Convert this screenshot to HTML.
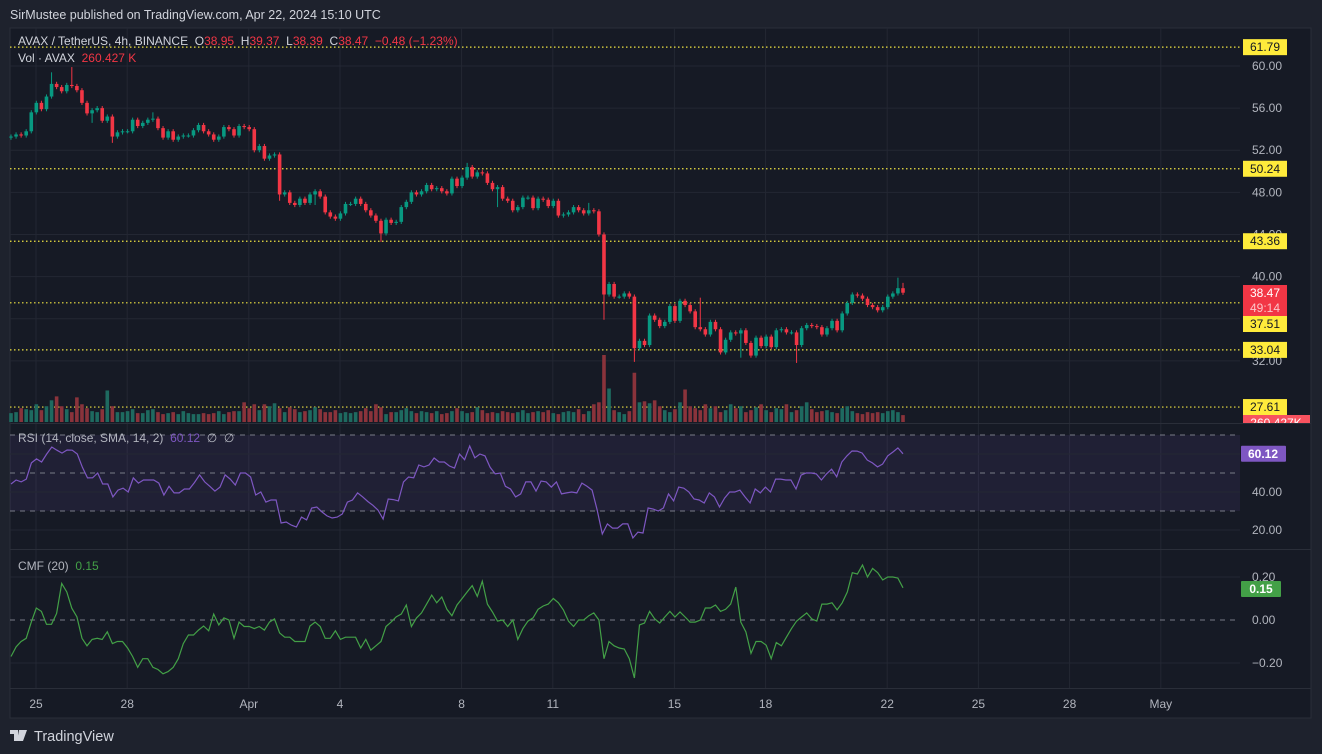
<!DOCTYPE html>
<html><head><meta charset="utf-8"><style>
body{margin:0;background:#1e222d;width:1322px;height:754px;overflow:hidden;font-family:"Liberation Sans",sans-serif}
svg{display:block}
text{font-family:"Liberation Sans",sans-serif}
</style></head><body>
<svg id="c" width="1322" height="754" xmlns="http://www.w3.org/2000/svg">
<rect x="0" y="0" width="1322" height="754" fill="#1e222d"/>
<text x="10" y="19" fill="#d1d4dc" font-size="12.5">SirMustee published on TradingView.com, Apr 22, 2024 15:10 UTC</text>
<rect x="10" y="28" width="1301" height="690" fill="#161a25" stroke="#2a2e39"/>
<g id="grid"></g>
<g id="levels"></g>
<g id="vol"></g>
<g id="candles"></g>
<g id="rsi"></g>
<g id="cmf"></g>
<g id="axes"></g>
<line x1="10" y1="423.5" x2="1311" y2="423.5" stroke="#2a2e39"/>
<line x1="10" y1="549.5" x2="1311" y2="549.5" stroke="#2a2e39"/>
<line x1="10" y1="688.5" x2="1311" y2="688.5" stroke="#2a2e39"/>
<g font-size="12">
<text x="18" y="45" fill="#d1d4dc" xml:space="preserve">AVAX / TetherUS, 4h, BINANCE  O<tspan fill="#f23645">38.95</tspan>  H<tspan fill="#f23645">39.37</tspan>  L<tspan fill="#f23645">38.39</tspan>  C<tspan fill="#f23645">38.47  −0.48 (−1.23%)</tspan></text>
<text x="18" y="62" fill="#d1d4dc" xml:space="preserve">Vol · AVAX  <tspan fill="#f23645">260.427 K</tspan></text>
<text x="18" y="442" fill="#b2b5be" xml:space="preserve">RSI (14, close, SMA, 14, 2)  <tspan fill="#7e57c2">60.12</tspan>  ∅  ∅</text>
<text x="18" y="570" fill="#b2b5be" xml:space="preserve">CMF (20)  <tspan fill="#43a047">0.15</tspan></text>
</g>
<g>
<path d="M10 730h8v11h-4v-7h-4z M19 730h4l-3 11h-3z M23 730h4l-4 11h-3z" fill="#d1d4dc"/>
<text x="34" y="741" fill="#d1d4dc" font-size="14.5">TradingView</text>
</g>
</svg>
<script>
// ---- data ----
const dayLabels = ["25","28","Apr","4","8","11","15","18","22","25","28","May"];
const dayIndex = [0,3,7,10,14,17,21,24,28,31,34,37]; // days since Mar 25
const priceTicks = [60,56,52,48,44,40,36,32];
const levelValues = [61.79,50.24,43.36,37.51,33.04,27.61];
const closes = [53.3,53.5,53.4,53.8,55.6,56.5,55.9,57.1,58.3,58.0,57.6,58.2,58.1,57.7,56.5,55.5,55.8,56.0,54.8,55.2,53.3,53.7,53.8,53.8,54.9,54.3,54.6,54.9,55.0,54.1,53.2,53.8,53.0,53.3,53.4,53.4,53.9,54.4,53.8,53.5,53.0,53.3,54.2,54.0,53.4,54.3,54.2,54.0,52.0,52.4,51.2,51.5,51.6,47.8,48.0,47.0,46.8,47.4,47.0,47.8,48.1,47.6,
46.1,45.7,45.5,46.0,46.9,46.9,47.4,46.9,46.3,45.8,45.3,44.1,45.4,45.1,45.2,46.6,47.1,48.0,47.8,48.1,48.7,48.3,48.4,48.1,47.9,49.3,48.6,49.4,50.4,49.5,49.9,49.8,48.9,48.3,48.5,47.4,47.2,46.3,46.6,47.5,47.5,46.5,47.4,47.3,46.7,47.2,45.8,45.9,46.1,46.6,46.3,46.0,46.3,46.2,
44.0,38.3,39.3,38.1,38.1,38.4,38.1,33.2,33.9,33.5,36.3,35.9,35.3,35.7,37.2,35.8,37.7,37.3,36.7,35.2,35.0,34.5,35.7,35.0,32.8,34.0,34.7,34.6,34.9,33.7,32.5,34.2,33.4,34.3,33.3,34.9,35.0,34.7,34.7,33.5,35.1,35.4,35.3,35.2,34.5,35.1,35.8,34.9,36.5,37.5,38.3,38.2,37.9,37.3,37.1,36.8,37.1,38.1,38.4,38.9,38.47];
const firstOpen = 53.2;
const wickHighs = {8:59.4,12:59.9,28:55.6,114:47.0,175:39.9,176:39.4,136:38.0,90:50.8};
const wickLows = {16:54.6,20:52.7,53:47.2,60:46.8,73:43.3,117:35.9,123:31.9,155:31.8,144:32.3,96:46.6};
const volumes = [450,500,700,650,600,900,600,800,1100,1300,
800,650,500,1250,900,700,550,500,650,1600,
800,500,500,550,650,450,450,600,650,500,
400,450,500,400,550,450,400,400,450,400,
450,550,400,500,550,550,1000,700,900,600,
900,800,950,700,500,750,650,500,550,600,
750,650,500,500,600,450,500,450,500,550,
700,550,900,750,400,500,500,600,700,550,
450,550,500,450,550,400,450,550,700,550,
450,500,750,600,450,500,450,550,500,450,
500,600,450,500,550,500,600,450,400,500,
550,500,650,400,550,900,1000,3400,1700,600,
500,400,550,2500,1000,1050,950,1100,800,600,
500,650,1000,1650,800,700,600,900,700,800,
500,600,900,700,800,500,600,750,900,600,
500,700,650,900,500,600,800,1000,650,500,
550,600,500,450,700,800,550,450,400,500,
450,500,450,550,600,500,350];
const rsiValues = [44.2,46.3,45.3,46.8,55.3,57.4,55.8,60,63.7,62,60.5,62.1,62,60,53,47.4,47.5,50,44.2,44.2,37.4,41,42,40,47.4,44.7,46.3,46.3,46.3,44.7,38.4,43,39.5,39.5,41.6,41.6,45,49,45.3,43,40.5,42.6,49,46.8,43.7,50,50,47.9,38.4,40,34.7,35.8,35.8,23.7,24.2,22.6,21.6,26.8,25.3,31.6,32.1,29.5,27.4,26.3,26.8,28.4,34.7,35.8,39.5,37.4,35,33,30.5,25.8,36.3,36,35.3,45.3,47.9,47.5,54.2,53.2,54.2,57.9,55.8,55.8,53.7,52.6,60,
57,64.2,58,60,59,53,49.5,50,43,41.6,37.4,39,45.3,45.3,40.5,45.8,45.3,42.6,45.3,39,39.5,40,39.5,44.7,43,41,30.5,17.9,23.2,21,21,23.2,23.2,15.8,18.9,18.4,31.6,31,30,31.6,39,35.3,42.6,42,40,36.3,35.8,34.2,39.5,37.4,32.1,36.8,40,40,41,37.4,34.2,41.6,39.5,42.6,40,46.8,46.8,46.3,46.3,41.6,48.9,50,50,49.5,46.3,49.5,52,48,55.8,59,61.6,61.5,60.5,56.8,55.3,53.2,54.7,59,61,63.2,60.12];
const cmfValues = [-0.17,-0.125,-0.1,-0.085,-0.01,0.056,0.04,-0.02,-0.02,0.03,0.17,0.13,0.055,0.015,-0.085,-0.12,-0.09,-0.085,-0.09,-0.055,-0.11,-0.1,-0.1,-0.13,-0.17,-0.22,-0.18,-0.18,-0.22,-0.23,-0.25,-0.24,-0.22,-0.18,-0.11,-0.07,-0.07,-0.047,-0.028,-0.05,0.028,-0.023,0.01,0,-0.085,-0.01,-0.03,-0.03,-0.04,-0.03,-0.047,-0.01,0.005,-0.06,-0.08,-0.08,-0.1,-0.1,-0.1,-0.028,-0.01,-0.03,-0.085,-0.085,-0.05,-0.09,-0.08,-0.08,-0.08,-0.13,-0.09,-0.14,-0.12,-0.1,-0.03,-0.01,0.015,0.028,0.07,-0.03,0.01,0.033,0.074,0.116,0.08,0.107,0.05,0.02,0.07,
0.1,0.13,0.16,0.11,0.18,0.074,0.037,-0.005,0,-0.03,0,-0.09,-0.04,-0.005,0.01,0.05,0.065,0.074,0.1,0.08,0.047,-0.005,-0.03,0,0,0.02,0.033,0,-0.18,-0.1,-0.12,-0.13,-0.135,-0.18,-0.27,-0.023,-0.014,0.04,0.005,-0.014,0.014,0.04,0.014,0.037,0.014,-0.01,-0.01,0,0.056,0.056,0.07,0.04,0.05,0.074,0.153,-0.01,-0.056,-0.155,-0.1,-0.1,-0.117,-0.18,-0.105,-0.12,-0.08,-0.04,-0.005,0.014,0.033,0.005,-0.005,0.074,0.074,0.08,0.047,0.08,0.13,0.22,0.214,0.256,0.2,0.24,0.22,0.186,0.2,0.2,0.195,0.15];
const rsiTicks = [40,20];
const cmfTicks = [0.2,0,-0.2];

// ---- scales ----
const NS="http://www.w3.org/2000/svg";
const X0=11, X1=903, PLOT_R=1240;
const dayX = d => 36 + d*30.4;
const xOf = (i,n) => X0 + i*(X1-X0)/(n-1);
const yP = p => 66 + (60-p)*10.53;
const yR = v => 530 - (v-20)*1.9;
const yC = v => 620 - v*215;
function mk(tag, attrs, parent, txt){const e=document.createElementNS(NS,tag);for(const k in attrs)e.setAttribute(k,attrs[k]);if(txt!==undefined)e.textContent=txt;parent.appendChild(e);return e;}
const G=id=>document.getElementById(id);

// grid
const grid=G('grid');
dayIndex.forEach((d,i)=>{
  const l=mk('line',{x1:dayX(d),x2:dayX(d),y1:28,y2:688,stroke:'#232733'},grid);
  
  
  const t=mk('text',{x:dayX(d),y:708,fill:'#b2b5be','font-size':12,'text-anchor':'middle'},G('axes'),dayLabels[i]);
  
  
});
priceTicks.forEach(p=>{
  const l=mk('line',{x1:10,x2:PLOT_R,y1:yP(p),y2:yP(p),stroke:'#232733'},grid);
  
  
  const t=mk('text',{x:1252,y:yP(p)+4,fill:'#b2b5be','font-size':12},G('axes'),p.toFixed(2));
  
  
});

// RSI pane
const rsi=G('rsi');
mk('rect',{x:10,y:yR(70),width:PLOT_R-10,height:yR(30)-yR(70),fill:'rgba(126,87,194,0.1)'},rsi);
[60,40,20].forEach(v=>{mk('line',{x1:10,x2:PLOT_R,y1:yR(v),y2:yR(v),stroke:'#232733'},rsi);});
[70,50,30].forEach(v=>{
  const l=mk('line',{x1:10,x2:PLOT_R,y1:yR(v),y2:yR(v),stroke:'#787b86','stroke-dasharray':'5,5'},rsi);
  
  
});
rsiTicks.forEach(v=>{
  const t=mk('text',{x:1252,y:yR(v)+4,fill:'#b2b5be','font-size':12},rsi,v.toFixed(2));
  
  
});
let pts=rsiValues.map((v,i)=>xOf(i,rsiValues.length).toFixed(1)+','+yR(v).toFixed(1)).join(' ');
const rl=mk('polyline',{points:pts,fill:'none',stroke:'#7e57c2','stroke-width':1.2},rsi);


const rv=rsiValues[rsiValues.length-1];
mk('rect',{x:1241,y:yR(rv)-8,width:45,height:16,fill:'#7e57c2',rx:1},rsi);
const rb=mk('text',{x:1263,y:yR(rv)+4,fill:'#fff','font-size':12,'text-anchor':'middle','font-weight':'bold'},rsi,rv.toFixed(2));



// CMF pane
const cmf=G('cmf');
cmfTicks.forEach(v=>{
  if(v===0) mk('line',{x1:10,x2:PLOT_R,y1:yC(v),y2:yC(v),stroke:'#787b86','stroke-dasharray':'5,5'},cmf);
  else mk('line',{x1:10,x2:PLOT_R,y1:yC(v),y2:yC(v),stroke:'#232733'},cmf);
  const t=mk('text',{x:1252,y:yC(v)+4,fill:'#b2b5be','font-size':12},cmf,(v<0?'−':'')+Math.abs(v).toFixed(2));
  
  
});
pts=cmfValues.map((v,i)=>xOf(i,cmfValues.length).toFixed(1)+','+yC(v).toFixed(1)).join(' ');
const cl=mk('polyline',{points:pts,fill:'none',stroke:'#43a047','stroke-width':1.2},cmf);


mk('rect',{x:1241,y:581,width:40,height:16,fill:'#43a047',rx:1},cmf);
const cb=mk('text',{x:1261,y:593,fill:'#fff','font-size':12,'text-anchor':'middle','font-weight':'bold'},cmf,cmfValues[cmfValues.length-1].toFixed(2));



// volume + candles
const n=closes.length;
const vmax=Math.max(...volumes);
const vg=G('vol'), cg=G('candles');
for(let i=0;i<n;i++){
  const o=i===0?firstOpen:closes[i-1], c=closes[i];
  const up=c>=o;
  const x=xOf(i,n);
  const col=up?'#089981':'#f23645';
  if(i<volumes.length){
    const h=volumes[i]/vmax*67;
    const b=mk('rect',{x:x-1.8,y:422-h,width:3.6,height:h,fill:up?'#1e6a60':'#8a333b'},vg);
    
    
  }
  const hi=wickHighs[i]!==undefined?wickHighs[i]:Math.max(o,c)+0.2;
  const lo=wickLows[i]!==undefined?wickLows[i]:Math.min(o,c)-0.2;
  const w=mk('line',{x1:x,x2:x,y1:yP(hi),y2:yP(lo),stroke:col,'stroke-width':1},cg);
  
  
  const top=yP(Math.max(o,c)), bh=Math.max(1,yP(Math.min(o,c))-top);
  const r=mk('rect',{x:x-1.8,y:top,width:3.6,height:bh,fill:col},cg);
  
  
}

// level lines + badges
const lv=G('levels');
levelValues.forEach(v=>{
  const l=mk('line',{x1:10,x2:PLOT_R,y1:yP(v),y2:yP(v),stroke:'#f0e442','stroke-dasharray':'1.5,2.5','stroke-width':1.2},lv);
  
  
});
const ax=G('axes');
const badgeYs={61.79:yP(61.79),50.24:yP(50.24),43.36:yP(43.36),37.51:324,33.04:yP(33.04),27.61:yP(27.61)};
levelValues.forEach(v=>{
  const y=badgeYs[v];
  mk('rect',{x:1243,y:y-8,width:44,height:16,fill:'#ffeb3b'},ax);
  const t=mk('text',{x:1265,y:y+4,fill:'#131722','font-size':12,'text-anchor':'middle'},ax,v.toFixed(2));
  
  
});
const last=closes[n-1];
mk('rect',{x:1243,y:285,width:44,height:31,fill:'#f23645'},ax);
const pb=mk('text',{x:1265,y:297,fill:'#fff','font-size':12,'text-anchor':'middle'},ax,last.toFixed(2));


const cd=mk('text',{x:1265,y:312,fill:'#fbc6ca','font-size':12,'text-anchor':'middle'},ax,'49:14');


const clip=mk('clipPath',{id:'vclip'},ax);
mk('rect',{x:1240,y:410,width:80,height:13},clip);
const vb=mk('g',{'clip-path':'url(#vclip)'},ax);
mk('rect',{x:1243,y:415,width:67,height:16,fill:'#f7525f'},vb);
const vt=mk('text',{x:1276,y:427,fill:'#fff','font-size':12,'text-anchor':'middle'},vb,'260.427K');


</script>
</body></html>
